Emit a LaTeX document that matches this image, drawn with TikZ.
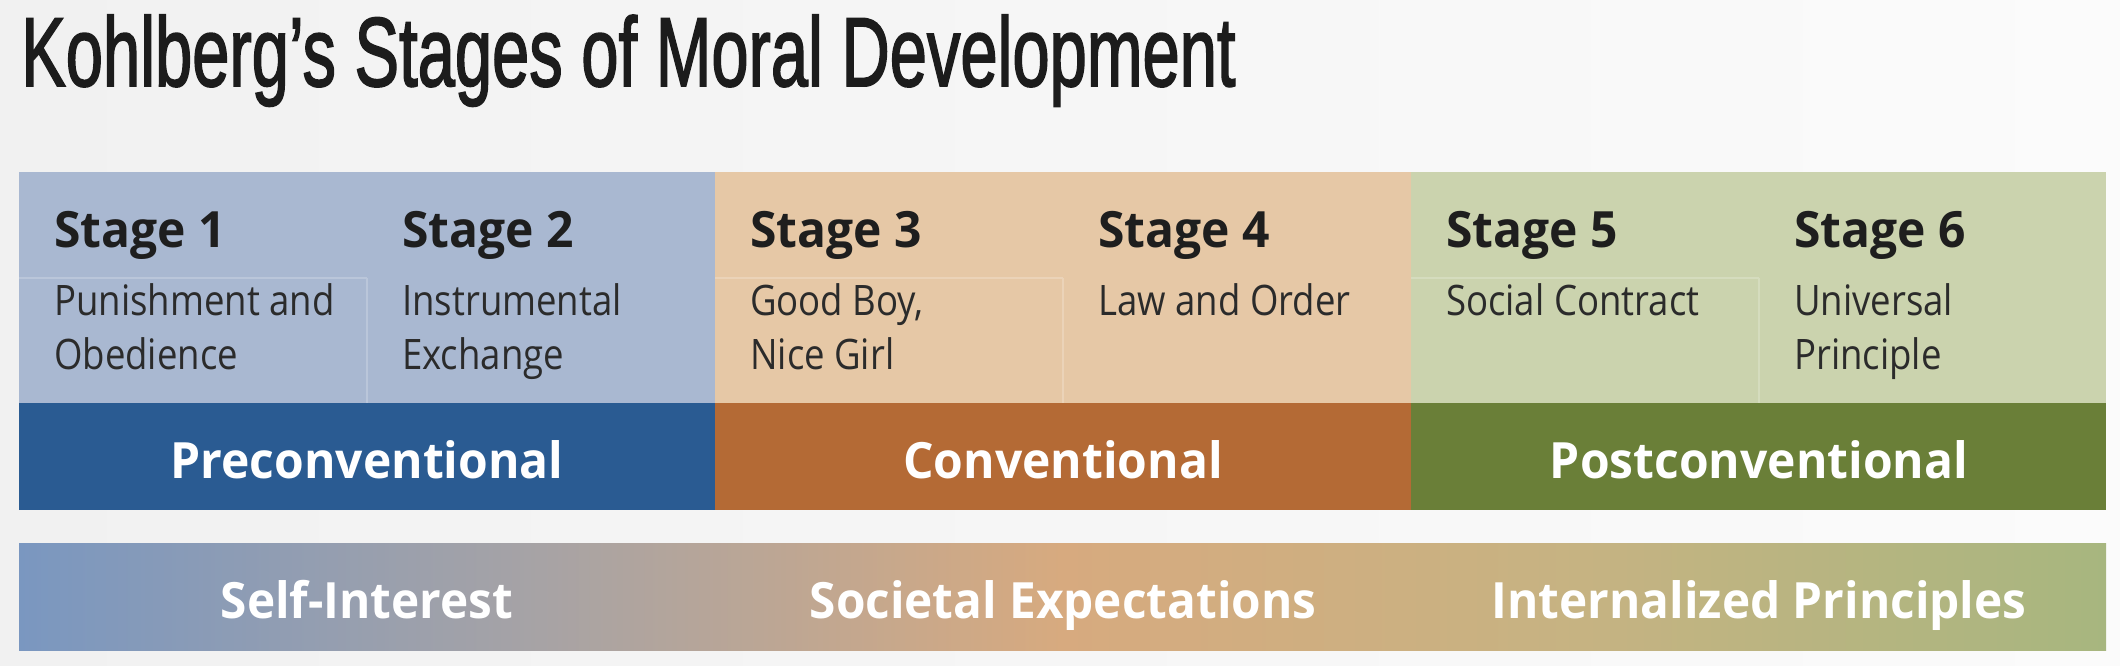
\documentclass[tikz,border=0pt]{standalone}
\usepackage{fontspec}
\usepackage{graphicx}
\setmainfont{Open Sans}
\newfontfamily\titlefont[FakeBold=2]{Liberation Sans}
\newfontfamily\descfont[FakeStretch=0.87]{Open Sans}
\newfontfamily\headfont[FakeStretch=0.96]{Open Sans}
\newfontfamily\gradfont[FakeStretch=0.955]{Open Sans}
\definecolor{bgL}{HTML}{F1F1F1}
\definecolor{bgR}{HTML}{FBFBFB}
\definecolor{titletxt}{HTML}{1C1C1C}
\definecolor{stagetxt}{HTML}{1E1E1E}
\definecolor{desctxt}{HTML}{2B2B2B}
\definecolor{lblue}{HTML}{A9B8D1}
\definecolor{dblue}{HTML}{2A5B92}
\definecolor{ltan}{HTML}{E6C8A6}
\definecolor{dorange}{HTML}{B46A35}
\definecolor{lgreen}{HTML}{CBD3AE}
\definecolor{dgreen}{HTML}{6A7F38}
\definecolor{g0}{HTML}{7A97C0}
\definecolor{g1}{HTML}{A7A3A5}
\definecolor{g2}{HTML}{D7AA7F}
\definecolor{g3}{HTML}{C6B382}
\definecolor{g4}{HTML}{A7B67F}
\pgfdeclarehorizontalshading{kgrad}{100bp}{color(0bp)=(g0); color(25bp)=(g0); color(37.5bp)=(g1); color(50bp)=(g2); color(62.5bp)=(g3); color(75bp)=(g4); color(100bp)=(g4)}
\begin{document}
\begin{tikzpicture}[x=1pt,y=-1pt,
  stagetitle/.style={anchor=base west, inner sep=0pt, font=\headfont\bfseries\fontsize{50}{50}\selectfont, text=stagetxt},
  stagedesc/.style={anchor=base west, inner sep=0pt, font=\descfont\fontsize{42}{54}\selectfont, text=desctxt},
  levellabel/.style={anchor=base, inner sep=0pt, font=\headfont\bfseries\fontsize{50}{50}\selectfont, text=white},
  gradlabel/.style={anchor=base, inner sep=0pt, font=\gradfont\bfseries\fontsize{50}{50}\selectfont, text=white},
  gridline/.style={line width=1.5pt}]
\useasboundingbox (0,0) rectangle (2120,666);
\shade[left color=bgL, right color=bgR] (0,0) rectangle (2120,666);

% title
\node[anchor=base west, inner sep=0pt, text=titletxt] (title) at (21,86)
  {\resizebox{1214pt}{71pt}{\titlefont Kohlberg’s Stages of Moral Development}};

% light stage areas
\fill[lblue] (19,172) rectangle (715,403);
\fill[ltan] (715,172) rectangle (1411,403);
\fill[lgreen] (1411,172) rectangle (2106,403);
% faint cell lines
\draw[gridline, lblue!80!white] (19,278) -- (367,278) (367,278) -- (367,403);
\draw[gridline, ltan!80!white] (715,278) -- (1063,278) (1063,278) -- (1063,403);
\draw[gridline, lgreen!80!white] (1411,278) -- (1759,278) (1759,278) -- (1759,403);

% dark level bands
\fill[dblue] (19,403) rectangle (715,510);
\fill[dorange] (715,403) rectangle (1411,510);
\fill[dgreen] (1411,403) rectangle (2106,510);

% gradient bar
\shade[shading=kgrad] (19,543) rectangle (2106,650);

% stage titles
\node[stagetitle] (s1) at (54,247) {Stage 1};
\node[stagetitle] (s2) at (402,247) {Stage 2};
\node[stagetitle] (s3) at (750,247) {Stage 3};
\node[stagetitle] (s4) at (1098,247) {Stage 4};
\node[stagetitle] (s5) at (1446,247) {Stage 5};
\node[stagetitle] (s6) at (1794,247) {Stage 6};

% descriptions
\node[stagedesc] (d1) at (54,315) {\begin{tabular}[t]{@{}l@{}}Punishment and\\Obedience\end{tabular}};
\node[stagedesc] (d2) at (402,315) {\begin{tabular}[t]{@{}l@{}}Instrumental\\Exchange\end{tabular}};
\node[stagedesc] (d3) at (750,315) {\begin{tabular}[t]{@{}l@{}}Good Boy,\\Nice Girl\end{tabular}};
\node[stagedesc] (d4) at (1098,315) {Law and Order};
\node[stagedesc] (d5) at (1446,315) {Social Contract};
\node[stagedesc] (d6) at (1794,315) {\begin{tabular}[t]{@{}l@{}}Universal\\Principle\end{tabular}};

% level labels
\node[levellabel] (l1) at (367,478) {Preconventional};
\node[levellabel] (l2) at (1063,478) {Conventional};
\node[levellabel] (l3) at (1759,478) {Postconventional};

% gradient labels
\node[gradlabel] (g1l) at (367,618) {Self-Interest};
\node[gradlabel] (g2l) at (1063,618) {Societal Expectations};
\node[gradlabel] (g3l) at (1759,618) {Internalized Principles};
\end{tikzpicture}
\end{document}
